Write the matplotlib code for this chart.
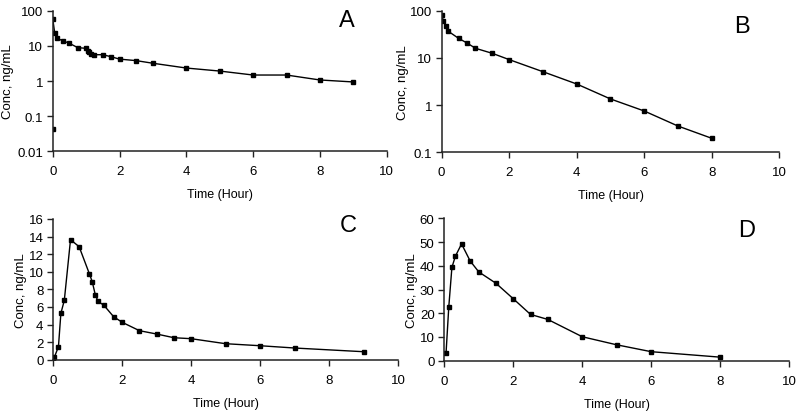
import matplotlib
matplotlib.use("Agg")
import matplotlib.pyplot as plt
from matplotlib.ticker import FuncFormatter, FixedLocator, NullLocator

plt.rcParams['font.family'] = ['Liberation Sans', 'DejaVu Sans']

# Panel A (log scale) - first point is the isolated pre-dose marker
a_time = [0, 0, 0.06, 0.13, 0.3, 0.5, 0.75, 1.0, 1.05, 1.1, 1.15, 1.25, 1.5, 1.75, 2, 2.5, 3, 4, 5, 6, 7, 8, 9]
a_conc = [0.043, 60, 22.8, 16.4, 14, 11.8, 8.9, 8.5, 7.3, 6.5, 6.0, 5.6, 5.6, 4.9, 4.2, 3.8, 3.2, 2.34, 1.92, 1.48, 1.48, 1.07, 0.94]

# Panel B (log scale)
b_time = [0, 0.05, 0.12, 0.2, 0.5, 0.75, 1, 1.5, 2, 3, 4, 5, 6, 7, 8]
b_conc = [82, 61, 48, 36.5, 26, 20.7, 16, 12.5, 9.2, 5.1, 2.8, 1.35, 0.75, 0.36, 0.198]

# Panel C (linear)
c_time = [0, 0.03, 0.15, 0.22, 0.32, 0.5, 0.75, 1.05, 1.13, 1.22, 1.3, 1.47, 1.75, 2, 2.5, 3, 3.5, 4, 5, 6, 7, 9]
c_conc = [0.19, 0.27, 1.48, 5.27, 6.75, 13.65, 12.85, 9.74, 8.87, 7.36, 6.63, 6.18, 4.89, 4.25, 3.30, 2.92, 2.50, 2.39, 1.82, 1.59, 1.33, 0.91]

# Panel D (linear)
d_time = [0.05, 0.13, 0.22, 0.32, 0.5, 0.75, 1, 1.5, 2, 2.5, 3, 4, 5, 6, 8]
d_conc = [3.2, 22.8, 39.3, 44.0, 49.2, 42.0, 37.4, 32.6, 26.1, 19.5, 17.4, 10.1, 6.7, 3.8, 1.5]

x_ticks = [0, 2, 4, 6, 8, 10]

fig = plt.figure(figsize=(8, 4.14), dpi=100)

def style(ax, letter, lx, ly, ylab_x):
    for s in ['top', 'right']:
        ax.spines[s].set_visible(False)
    for s in ['left', 'bottom']:
        ax.spines[s].set_linewidth(1.1)
        ax.spines[s].set_color('#222222')
    ax.set_xlim(0, 10)
    ax.set_xticks(x_ticks)
    ax.tick_params(axis='both', labelsize=9.5, length=4, width=1, color='#222222')
    ax.tick_params(axis='x', pad=6)
    ax.tick_params(axis='y', pad=3)
    ax.set_xlabel('Time (Hour)', fontsize=9, labelpad=8)
    ax.set_ylabel('Conc, ng/mL', fontsize=9.5)
    ax.yaxis.set_label_coords(ylab_x, 0.5)
    ax.text(lx, ly, letter, transform=ax.transAxes, fontsize=17, ha='center', va='center')

fmt = FuncFormatter(lambda v, p: '%g' % v)

# A
axA = fig.add_axes([0.0659, 0.6321, 0.4175, 0.3396])
axA.set_yscale('log')
axA.plot(a_time[1:], a_conc[1:], color='black', lw=1)
axA.plot(a_time, a_conc, ls='none', marker='s', ms=3.2, color='black')
axA.set_ylim(0.01, 100)
axA.yaxis.set_major_locator(FixedLocator([0.01, 0.1, 1, 10, 100]))
axA.yaxis.set_minor_locator(NullLocator())
axA.yaxis.set_major_formatter(fmt)
style(axA, 'A', 0.88, 0.934, -0.116)

# B
axB = fig.add_axes([0.5521, 0.6297, 0.422, 0.342])
axB.set_yscale('log')
axB.plot(b_time, b_conc, color='black', lw=1, marker='s', ms=3.2)
axB.set_ylim(0.1, 100)
axB.yaxis.set_major_locator(FixedLocator([0.1, 1, 10, 100]))
axB.yaxis.set_minor_locator(NullLocator())
axB.yaxis.set_major_formatter(fmt)
style(axB, 'B', 0.889, 0.894, -0.098)

# C
axC = fig.add_axes([0.0666, 0.1287, 0.431, 0.3399])
axC.plot(c_time, c_conc, color='black', lw=1, marker='s', ms=3.2)
axC.set_ylim(0, 16)
axC.set_yticks(range(0, 17, 2))
style(axC, 'C', 0.855, 0.96, -0.077)

# D
axD = fig.add_axes([0.5554, 0.1263, 0.431, 0.344])
axD.plot(d_time, d_conc, color='black', lw=1, marker='s', ms=3.2)
axD.set_ylim(0, 60)
axD.set_yticks(range(0, 61, 10))
style(axD, 'D', 0.877, 0.918, -0.077)

fig.savefig('out.png', dpi=100)
